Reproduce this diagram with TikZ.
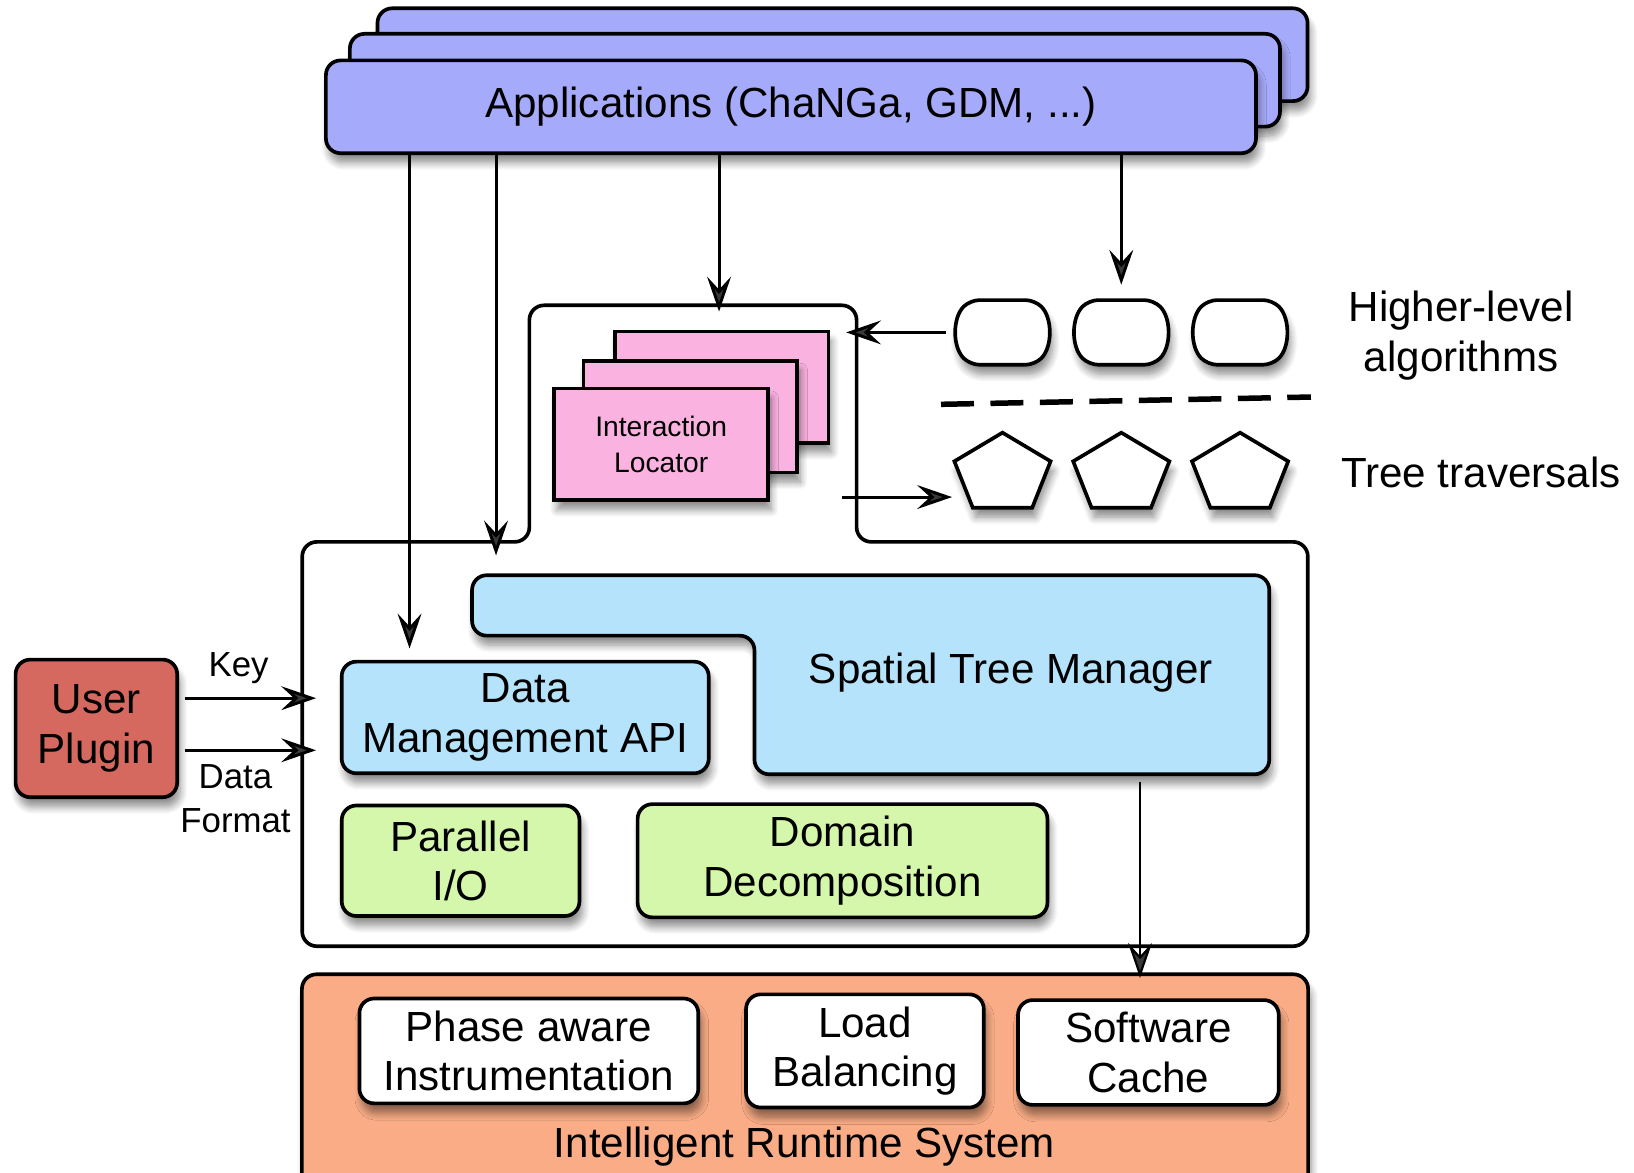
\documentclass[tikz,border=0pt]{standalone}
\usepackage{fontspec}
\setmainfont{Liberation Sans}
\usetikzlibrary{arrows.meta,shapes.geometric,shapes.misc,shadows.blur}

\definecolor{appblue}{RGB}{165,170,250}
\definecolor{locpink}{RGB}{250,178,225}
\definecolor{mgrblue}{RGB}{181,227,251}
\definecolor{iogreen}{RGB}{212,247,171}
\definecolor{plugred}{RGB}{213,104,95}
\definecolor{rtsorange}{RGB}{249,172,133}

\newcommand{\boxfont}{\fontsize{11.5pt}{13.5pt}\selectfont}
\newcommand{\tagfont}{\fontsize{9.5pt}{12pt}\selectfont}
\newcommand{\locfont}{\fontsize{7.7pt}{10pt}\selectfont}

\tikzset{
  shd/.style={blur shadow={shadow xshift=0.8pt, shadow yshift=-2.6pt, shadow blur radius=2pt, shadow blur steps=8, shadow opacity=45}},
  box/.style={draw, line width=1pt, rounded corners=4pt, align=center, font=\boxfont, shd},
  appbox/.style={box, fill=appblue, minimum width=8.92cm, minimum height=0.89cm},
  locbox/.style={box, rounded corners=0pt, fill=locpink, font=\locfont, minimum width=2.05cm, minimum height=1.07cm},
  alg/.style={draw, fill=white, line width=1pt, rounded rectangle, rounded rectangle arc length=90, rounded corners=2.5pt, minimum width=0.95cm, minimum height=0.62cm, shd},
  trav/.style={draw, fill=white, line width=1pt, regular polygon, regular polygon sides=5, minimum size=0.97cm, inner sep=0pt, yscale=0.82, shd},
  note/.style={align=center, font=\boxfont},
  tag/.style={align=center, font=\tagfont},
  arr/.style={-{Stealth[length=9.5pt,width=6.5pt,inset=3.5pt]}, line width=0.8pt},
  frame/.style={line width=1pt, rounded corners=4pt},
  sep/.style={line width=1.5pt, dash pattern=on 9pt off 4.5pt}
}

\begin{document}
\begin{tikzpicture}[x=0.01cm, y=-0.01cm]
    \useasboundingbox (0,0) rectangle (1568,1125);

    % Applications (stacked)
    \node [appbox] (app3) at (808.5,52.5) {};
    \node [appbox] (app2) at (782,77) {};
    \node [appbox] (app1) at (759,102.5) {Applications (ChaNGa, GDM, ...)};

    % Outline of the tree layer
    \draw [frame] (290,908) -- (290,520) -- (508,520) -- (508,293) -- (822,293) -- (822,520) -- (1255,520) -- (1255,908) -- cycle;

    % Interaction locators
    \node [locbox] (loc3) at (692.5,371.5) {};
    \node [locbox] (loc2) at (662.5,400) {};
    \node [locbox] (loc1) at (634.5,426.5) {Interaction\\Locator};

    % Higher-level algorithms and tree traversals
    \node [alg] (alg1) at (962,319) {};
    \node [alg] (alg2) at (1076,319) {};
    \node [alg] (alg3) at (1190,319) {};
    \draw [sep] (903,388) -- (1258,381);
    \node [trav] (trav1) at (962,455) {};
    \node [trav] (trav2) at (1076,455) {};
    \node [trav] (trav3) at (1190,455) {};
    \node [note] (hlalg) at (1402,322) {Higher-level\\algorithms};
    \node [note] (ttrav) at (1421,453) {Tree traversals};

    % Spatial tree manager and data modules
    \draw [line width=1pt, rounded corners=4pt, fill=mgrblue, shd] (453,552) -- (1218,552) -- (1218,743) -- (724,743) -- (724,610) -- (453,610) -- cycle;
    \node [note] (stm) at (970,645) {Spatial Tree Manager};
    \node [box, fill=mgrblue, minimum width=3.52cm, minimum height=1.05cm] (dmapi) at (504,688.5) {Data\\Management API};
    \node [box, fill=iogreen, minimum width=2.28cm, minimum height=1.06cm] (pio) at (442,826) {Parallel\\I/O};
    \node [box, fill=iogreen, minimum width=3.93cm, minimum height=1.06cm] (ddec) at (808.5,826) {Domain\\Decomposition};

    % User plugin
    \node [box, fill=plugred, minimum width=1.55cm, minimum height=1.32cm] (plugin) at (92.5,699) {User\\Plugin};
    \node [tag] (keylbl) at (229,641) {Key};
    \node [tag] (fmtlbl) at (226,766) {Data\\Format};

    % Runtime system
    \node [box, fill=rtsorange, minimum width=9.65cm, minimum height=2.05cm] (irs) at (772.5,1037.5) {};
    \node [box, fill=white, minimum width=3.25cm, minimum height=0.95cm] (phase) at (507.5,1008.5) {Phase aware\\Instrumentation};
    \node [box, fill=white, minimum width=2.28cm, minimum height=0.95cm] (lbal) at (830,1008.5) {Load\\Balancing};
    \node [box, fill=white, minimum width=2.50cm, minimum height=0.94cm] (cache) at (1102,1010) {Software\\Cache};
    \node [note] (irslbl) at (772,1100) {Intelligent Runtime System};

    % Connector ends
    \coordinate (c1) at (393,0);
    \coordinate (c2) at (476,533);
    \coordinate (c3) at (690,299);
    \coordinate (frin) at (812,319);
    \coordinate (frout) at (808,477);
    \coordinate (stmout) at (1094,750);
    \coordinate (keyy) at (0,670);
    \coordinate (fmty) at (0,720);

    % Connectors
    \draw [arr, shorten >=3.1pt] (app1.south -| c1) -- (dmapi.north -| c1);
    \draw [arr] (app1.south -| c2) -- (c2);
    \draw [arr] (app1.south -| c3) -- (c3);
    \draw [arr, shorten >=3.7pt] (app1.south -| alg2.north) -- (alg2.north);
    \draw [arr, shorten <=2.5pt] (alg1.west) -- (frin);
    \draw [arr, shorten >=1.5pt] (frout) -- (frout -| trav1.west);
    \draw [arr, line width=0.6pt, shorten >=-1.5pt] (stmout) -- (irs.north -| stmout);
    \draw [arr, shorten <=1.5pt, shorten >=6.5pt] (plugin.east |- keyy) -- (dmapi.west |- keyy);
    \draw [arr, shorten <=1.5pt, shorten >=6.5pt] (plugin.east |- fmty) -- (dmapi.west |- fmty);
\end{tikzpicture}
\end{document}
